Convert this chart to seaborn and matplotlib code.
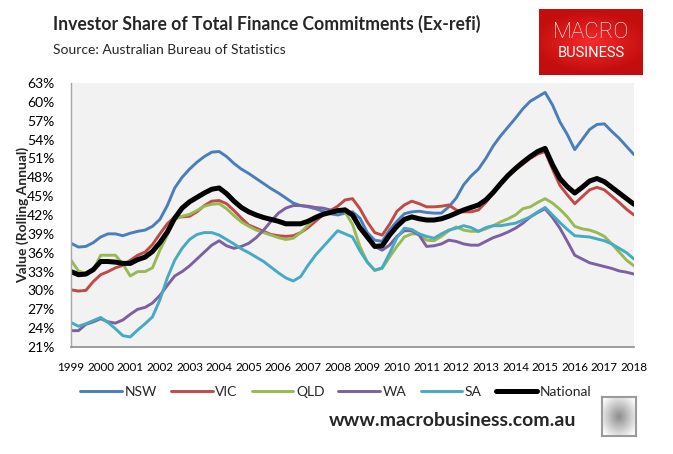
import numpy as np
import pandas as pd
import matplotlib
matplotlib.use("Agg")
import matplotlib.pyplot as plt
import seaborn as sns
from matplotlib.colors import LinearSegmentedColormap

# quarterly readings, 1999 Q1 .. 2018 Q1 (percent)
QUARTERS = np.arange(1999, 2018.01, 0.25)

NSW = [37.5, 36.9, 37.0, 37.6, 38.5, 39.0, 39.0, 38.7, 39.1, 39.4, 39.6, 40.2,
       41.3, 43.5, 46.3, 48.0, 49.3, 50.4, 51.3, 52.0, 52.1, 51.3, 50.2, 49.3,
       48.6, 47.8, 47.0, 46.2, 45.5, 44.7, 43.9, 43.5, 43.3, 43.0, 42.6, 42.2,
       42.0, 42.3, 42.5, 41.5, 39.2, 38.0, 37.8, 39.6, 41.0, 42.2, 42.5, 42.6,
       42.4, 42.3, 42.3, 43.3, 44.7, 46.8, 48.2, 49.3, 51.0, 53.0, 54.6, 56.0,
       57.4, 58.9, 60.1, 60.8, 61.5, 59.5, 56.8, 54.8, 52.4, 54.0, 55.6, 56.4,
       56.5, 55.3, 54.2, 52.9, 51.6]
VIC = [30.1, 29.9, 30.0, 31.4, 32.5, 33.0, 33.6, 34.0, 34.8, 35.6, 36.1, 37.3,
       39.0, 40.6, 41.7, 41.7, 41.8, 42.5, 43.5, 44.2, 44.3, 43.8, 42.7, 41.5,
       40.4, 39.9, 39.4, 38.9, 38.7, 38.6, 38.7, 39.2, 40.0, 41.0, 42.0, 42.7,
       43.4, 44.4, 44.6, 43.0, 40.9, 39.2, 38.8, 40.5, 42.6, 43.6, 44.2, 43.8,
       43.3, 43.3, 43.4, 43.6, 42.8, 42.5, 42.5, 42.8, 44.0, 45.5, 47.0, 48.2,
       49.2, 50.1, 51.0, 51.7, 52.1, 49.3, 46.7, 45.2, 43.8, 44.9, 46.0, 46.4,
       46.0, 45.0, 44.0, 42.9, 42.0]
QLD = [34.8, 33.1, 32.7, 33.2, 35.6, 35.6, 35.6, 34.2, 32.3, 33.0, 33.0, 33.6,
       36.4, 38.8, 41.3, 41.8, 42.1, 42.7, 43.4, 43.7, 43.8, 43.0, 41.9, 40.9,
       40.2, 39.6, 39.2, 38.8, 38.4, 38.1, 38.3, 39.2, 40.4, 41.5, 42.2, 42.6,
       42.8, 42.5, 40.5, 37.0, 34.5, 33.2, 33.5, 35.3, 37.0, 38.5, 39.0, 39.0,
       38.0, 37.9, 38.6, 39.5, 40.1, 39.6, 39.4, 39.4, 39.8, 40.3, 40.9, 41.4,
       42.0, 43.0, 43.3, 44.0, 44.6, 43.9, 42.9, 41.7, 40.2, 39.8, 39.6, 39.2,
       38.6, 37.4, 36.1, 34.8, 33.9]
WA = [23.6, 23.6, 24.6, 25.0, 25.5, 25.0, 24.8, 25.3, 26.2, 27.0, 27.3, 28.0,
      29.2, 30.8, 32.3, 33.0, 33.9, 35.0, 36.1, 37.2, 37.9, 37.1, 36.7, 37.0,
      37.5, 38.4, 39.6, 41.0, 42.3, 43.1, 43.5, 43.5, 43.4, 43.2, 43.1, 42.8,
      42.6, 43.0, 42.2, 39.8, 38.8, 37.0, 36.4, 37.2, 38.6, 39.5, 39.5, 38.8,
      37.0, 37.1, 37.4, 38.0, 37.8, 37.4, 37.2, 37.2, 37.8, 38.4, 38.8, 39.3,
      39.9, 40.7, 41.7, 42.4, 43.0, 41.6, 39.9, 37.8, 35.6, 35.0, 34.4, 34.1,
      33.8, 33.5, 33.1, 32.9, 32.6]
SA = [24.9, 24.3, 24.7, 25.2, 25.7, 24.9, 23.9, 22.8, 22.6, 23.7, 24.7, 25.8,
      28.5, 32.0, 34.8, 36.7, 38.1, 38.9, 39.2, 39.2, 38.8, 38.1, 37.4, 36.6,
      36.0, 35.3, 34.6, 33.7, 32.8, 32.0, 31.5, 32.2, 34.0, 35.6, 36.9, 38.2,
      39.5, 39.0, 38.5, 36.3, 34.5, 33.2, 33.6, 35.9, 38.4, 39.9, 39.7, 39.0,
      38.6, 38.3, 39.0, 39.6, 39.9, 40.3, 40.0, 39.4, 40.0, 40.3, 40.3, 40.5,
      40.7, 41.2, 41.7, 42.5, 43.2, 42.0, 40.8, 39.7, 38.7, 38.6, 38.5, 38.2,
      37.9, 37.4, 36.7, 36.0, 35.0]
NATIONAL = [33.0, 32.5, 32.6, 33.3, 34.6, 34.6, 34.5, 34.3, 34.3, 34.9, 35.3, 36.2,
            37.6, 39.3, 41.5, 43.1, 44.1, 44.8, 45.5, 46.1, 46.3, 45.4, 44.2, 43.2,
            42.5, 42.0, 41.6, 41.3, 41.0, 40.6, 40.6, 40.6, 41.0, 41.6, 42.1, 42.4,
            42.7, 42.8, 42.0, 40.0, 38.5, 37.0, 37.1, 38.8, 40.2, 41.3, 41.7, 41.4,
            41.2, 41.2, 41.4, 41.8, 42.3, 42.8, 43.2, 43.6, 44.4, 45.6, 47.0, 48.3,
            49.4, 50.4, 51.3, 52.1, 52.6, 50.0, 47.8, 46.5, 45.5, 46.4, 47.4, 47.8,
            47.3, 46.4, 45.5, 44.6, 43.7]

SERIES = {"NSW": NSW, "VIC": VIC, "QLD": QLD, "WA": WA, "SA": SA, "National": NATIONAL}
COLORS = {"NSW": "#4a7ebb", "VIC": "#be4b48", "QLD": "#98b954", "WA": "#7d60a0",
          "SA": "#46aac5", "National": "#000000"}
YEAR_LABELS = [str(y) for y in range(1999, 2019)]
Y_TICKS = list(range(21, 64, 3))

df = pd.DataFrame({"year": QUARTERS, **SERIES}).melt(id_vars="year", var_name="state",
                                                      value_name="share")

sns.set_style("white")
plt.rcParams["font.family"] = ["Lato", "DejaVu Sans"]

W, H = 673, 454
fig = plt.figure(figsize=(W / 100, H / 100), dpi=100)
ax = fig.add_axes([71 / W, 1 - 347 / H, (634 - 71) / W, (347 - 83) / H])
ax.set_facecolor("#f2f2f2")

for name in SERIES:
    sub = df[df["state"] == name]
    sns.lineplot(data=sub, x="year", y="share", ax=ax, color=COLORS[name],
                 linewidth=3.6 if name == "National" else 2.1, label=name,
                 legend=False)

ax.set_xlim(1999, 2018)
ax.set_ylim(21, 63)
ax.set_xticks(range(1999, 2019))
ax.set_xticklabels(YEAR_LABELS, fontsize=8.4, color="#000000")
ax.set_yticks(Y_TICKS)
ax.set_yticklabels([f"{v}%" for v in Y_TICKS], fontsize=10, color="#000000")
ax.tick_params(axis="x", direction="out", length=4, width=1, color="#8c8c8c", pad=7)
ax.tick_params(axis="y", length=0, pad=12)
ax.set_xlabel("")
ax.set_ylabel("Value (Rolling Annual)", fontsize=10, fontweight="bold")
ax.yaxis.set_label_coords(-0.075, 0.5)
for side in ("top", "right"):
    ax.spines[side].set_visible(False)
ax.spines["left"].set_color("#a6a6a6")
ax.spines["bottom"].set_color("#8c8c8c")
ax.spines["left"].set_linewidth(1)
ax.spines["bottom"].set_linewidth(1.2)

handles, labels = ax.get_legend_handles_labels()
fig.legend(handles, labels, loc="center", bbox_to_anchor=(336 / W, 1 - 392 / H),
           ncol=6, frameon=False, fontsize=10, handlelength=3.0, handletextpad=0.2,
           columnspacing=1.0)

fig.text(53 / W, 1 - 24 / H, "Investor Share of Total Finance Commitments (Ex-refi)",
         fontsize=12.7, fontweight="bold", va="center", ha="left")
fig.text(53 / W, 1 - 50 / H, "Source: Australian Bureau of Statistics",
         fontsize=10, va="center", ha="left")
fig.text(576 / W, 1 - 421 / H, "www.macrobusiness.com.au", fontsize=14,
         fontweight="bold", va="center", ha="right")

# logo block
logo = fig.add_axes([539 / W, 1 - 75 / H, 104 / W, 66 / H])
gy, gx = np.mgrid[-1:1:60j, -1:1:100j]
glow = 1 - np.clip(np.sqrt((gx * 0.9) ** 2 + (gy * 1.1) ** 2), 0, 1)
red_cmap = LinearSegmentedColormap.from_list("logo", ["#c40e0e", "#f52a2a"])
logo.imshow(glow, cmap=red_cmap, aspect="auto", extent=(0, 1, 0, 1))
logo.text(0.5, 0.64, "MACRO", color="white", fontsize=16, ha="center", va="center",
          family=["Roboto", "DejaVu Sans"], fontweight="light", fontstretch="condensed")
logo.text(0.5, 0.33, "BUSINESS", color="white", fontsize=10.5, ha="center",
          va="center", family=["Roboto", "DejaVu Sans"])
logo.set_axis_off()

# wolf badge placeholder
badge = fig.add_axes([602 / W, 1 - 436 / H, 34 / W, 39 / H])
bx, by = np.mgrid[-1:1:40j, -1:1:34j]
shade = np.clip(0.55 + 0.35 * np.sqrt(bx ** 2 + by ** 2), 0, 1)
badge.imshow(shade, cmap="gray", vmin=0, vmax=1, aspect="auto")
badge.set_xticks([])
badge.set_yticks([])
for sp in badge.spines.values():
    sp.set_color("#9a9a9a")
    sp.set_linewidth(1.5)

fig.savefig("out.png", dpi=100)
